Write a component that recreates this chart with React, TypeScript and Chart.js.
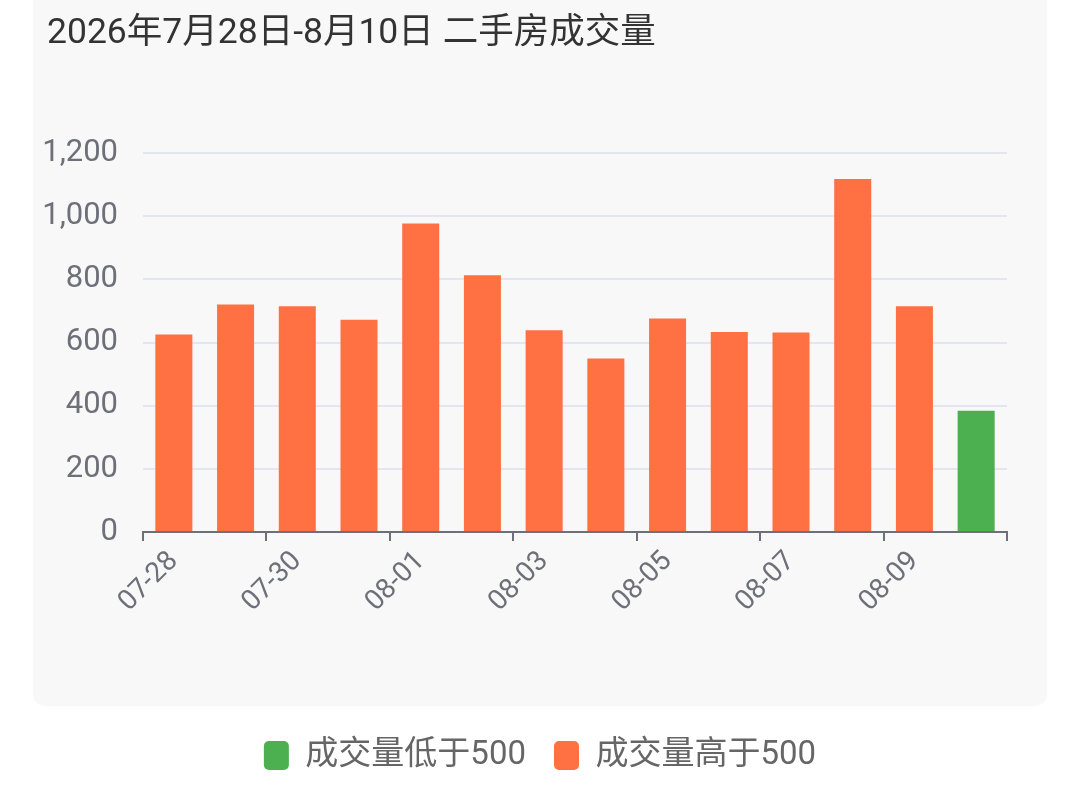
import { useEffect, useRef } from "react";
import Chart, { type Plugin } from "chart.js/auto";

const FONT = "Roboto, 'Noto Sans CJK SC', sans-serif";

// 数据
const TITLE = "2026年7月28日-8月10日 二手房成交量";
const DATES = ["07-28", "07-29", "07-30", "07-31", "08-01", "08-02", "08-03", "08-04", "08-05", "08-06", "08-07", "08-08", "08-09", "08-10"];
const VOLUMES = [625, 720, 715, 672, 977, 813, 639, 549, 676, 633, 632, 1118, 715, 384];
const THRESHOLD = 500;
const SERIES_LOW = "成交量低于500";
const SERIES_HIGH = "成交量高于500";
const Y_MAX = 1200;
const Y_STEP = 200;

// 颜色
const GREEN = "#4CAF50";
const ORANGE = "#FF7043";
const INK = "#6E7079";
const GRID = "#E3E6EE";
const PANEL = "#F8F8F8";

const lowData = VOLUMES.map((v) => (v < THRESHOLD ? v : null));
const highData = VOLUMES.map((v) => (v >= THRESHOLD ? v : null));

// 灰色卡片背景
const panelBg: Plugin = {
  id: "panelBg",
  beforeDraw(chart) {
    const { ctx } = chart;
    ctx.save();
    ctx.fillStyle = PANEL;
    ctx.beginPath();
    ctx.roundRect(33, -12, 1014, 718, 12);
    ctx.fill();
    ctx.restore();
  },
};

export default function App() {
  const ref = useRef<HTMLCanvasElement>(null);

  useEffect(() => {
    if (!ref.current) return;
    const chart = new Chart(ref.current, {
      type: "bar",
      data: {
        labels: DATES,
        datasets: [
          { label: SERIES_LOW, data: lowData, backgroundColor: GREEN, borderWidth: 0, grouped: false, barPercentage: 0.6, categoryPercentage: 1 },
          { label: SERIES_HIGH, data: highData, backgroundColor: ORANGE, borderWidth: 0, grouped: false, barPercentage: 0.6, categoryPercentage: 1 },
        ],
      },
      options: {
        animation: false,
        responsive: true,
        maintainAspectRatio: false,
        locale: "en-US",
        layout: { padding: { left: 40, right: 40, top: 153, bottom: 14 } },
        plugins: {
          legend: {
            position: "bottom",
            labels: {
              boxWidth: 25,
              boxHeight: 29,
              useBorderRadius: true,
              borderRadius: 5,
              padding: 28,
              color: "#666",
              font: { family: FONT, size: 33 },
            },
          },
          tooltip: { enabled: false },
        },
        scales: {
          x: {
            offset: true,
            grid: {
              offset: true,
              drawOnChartArea: false,
              drawTicks: true,
              tickLength: 9,
              lineWidth: 2,
              color: (c: any) => (c.type !== "tick" || c.index % 2 === 0 ? INK : "transparent"),
            },
            border: { display: true, color: INK, width: 2 },
            ticks: {
              autoSkip: false,
              minRotation: 45,
              maxRotation: 45,
              padding: 4,
              color: INK,
              font: { family: FONT, size: 28 },
              callback: (_v, i) => (i % 2 === 0 ? DATES[i] : ""),
            },
            afterFit: (s) => {
              s.height = 179;
            },
          },
          y: {
            min: 0,
            max: Y_MAX,
            ticks: { stepSize: Y_STEP, padding: 25, color: INK, font: { family: FONT, size: 31 } },
            grid: { color: GRID, lineWidth: 2, drawTicks: false },
            border: { display: false },
            afterFit: (s) => {
              s.width = 103;
            },
          },
          // 右侧留白（空轴），让图例居中于整页
          yRight: {
            position: "right",
            display: true,
            grid: { display: false },
            border: { display: false },
            ticks: { display: false },
            afterFit: (s) => {
              s.width = 33;
            },
          },
        },
      },
      plugins: [panelBg],
    });
    return () => chart.destroy();
  }, []);

  return (
    <div style={{ position: "absolute", left: 0, top: 0, width: 1080, height: 796, background: "#fff" }}>
      <canvas ref={ref} />
      <div
        style={{
          position: "absolute",
          left: 47,
          top: 9,
          fontFamily: FONT,
          fontSize: 35.5,
          lineHeight: "44px",
          color: "#333",
          whiteSpace: "nowrap",
        }}
      >
        {TITLE}
      </div>
    </div>
  );
}
